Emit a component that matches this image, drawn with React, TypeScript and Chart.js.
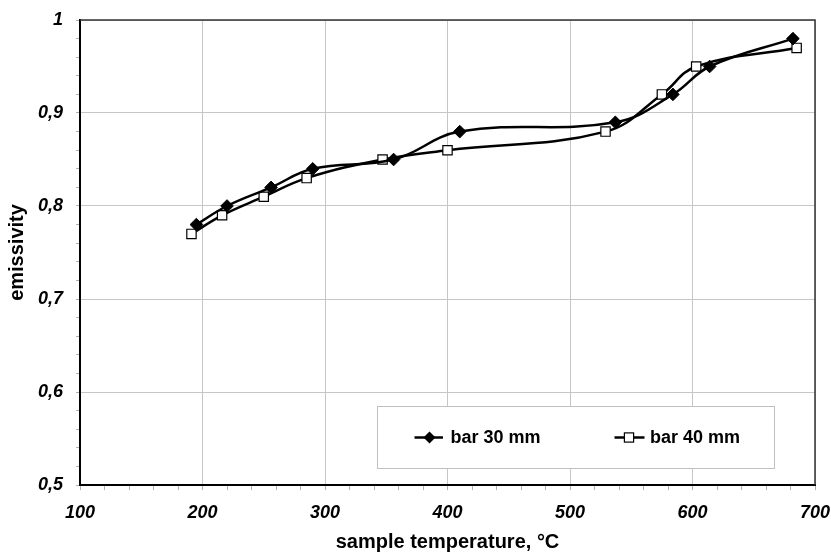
import React, { useEffect, useRef } from 'react';
import { Chart, registerables } from 'chart.js';

Chart.register(...registerables);

// ---- data ----
const temps30 = [195, 220, 256, 290, 356, 410, 537, 584, 614, 682];
const emis30 = [0.78, 0.8, 0.82, 0.84, 0.85, 0.88, 0.89, 0.92, 0.95, 0.98];
const temps40 = [191, 216, 250, 285, 347, 400, 529, 575, 603, 685];
const emis40 = [0.77, 0.79, 0.81, 0.83, 0.85, 0.86, 0.88, 0.92, 0.95, 0.97];
const seriesNames = ['bar 30 mm', 'bar 40 mm'];
const xAxisTitle = 'sample temperature, °C';
const yAxisTitle = 'emissivity';
const xRange = [100, 700];
const yRange = [0.5, 1];

const FONT = '"Liberation Sans", Arial, Helvetica, sans-serif';
const GRID = '#c6c6c6';
const TICKC = '#b0b0b0';

const isMajorY = (v: number) => Math.abs(v * 10 - Math.round(v * 10)) < 1e-6;
const isMajorX = (v: number) => Math.abs(v % 100) < 1e-6;

const framePlugin = {
  id: 'frameAndLegend',
  afterDraw(chart: any) {
    const { ctx, chartArea: a } = chart;
    ctx.save();
    // top and right frame
    ctx.strokeStyle = '#333';
    ctx.lineWidth = 1.5;
    ctx.beginPath();
    ctx.moveTo(a.left, a.top);
    ctx.lineTo(a.right, a.top);
    ctx.lineTo(a.right, a.bottom);
    ctx.stroke();

    // legend box
    const bx = a.left + 297;
    const by = a.top + 386;
    const bw = 397;
    const bh = 62;
    ctx.fillStyle = '#fff';
    ctx.fillRect(bx, by, bw, bh);
    ctx.strokeStyle = '#c0c0c0';
    ctx.lineWidth = 1;
    ctx.strokeRect(bx + 0.5, by + 0.5, bw, bh);

    const cy = by + 31.5;
    const items = [
      { l0: 37.5, l1: 66, m: 52.5, t: 73.5, style: 'diamond' },
      { l0: 237.5, l1: 267.5, m: 252, t: 273, style: 'square' },
    ];
    items.forEach((it, i) => {
      ctx.strokeStyle = '#000';
      ctx.lineWidth = 2.5;
      ctx.beginPath();
      ctx.moveTo(bx + it.l0, cy);
      ctx.lineTo(bx + it.l1, cy);
      ctx.stroke();
      const mx = bx + it.m;
      if (it.style === 'diamond') {
        const r = 6;
        ctx.fillStyle = '#000';
        ctx.beginPath();
        ctx.moveTo(mx, cy - r);
        ctx.lineTo(mx + r, cy);
        ctx.lineTo(mx, cy + r);
        ctx.lineTo(mx - r, cy);
        ctx.closePath();
        ctx.fill();
      } else {
        const s = 4.6;
        ctx.fillStyle = '#fff';
        ctx.fillRect(mx - s, cy - s, 2 * s, 2 * s);
        ctx.lineWidth = 1.2;
        ctx.strokeRect(mx - s, cy - s, 2 * s, 2 * s);
      }
      ctx.fillStyle = '#000';
      ctx.font = `bold 18px ${FONT}`;
      ctx.textBaseline = 'middle';
      ctx.textAlign = 'left';
      ctx.fillText(seriesNames[i], bx + it.t, cy + 1);
    });
    ctx.restore();
  },
};

export default function App() {
  const ref = useRef<HTMLCanvasElement | null>(null);

  useEffect(() => {
    if (!ref.current) return;
    const tickFont = { family: FONT, size: 18, weight: 'bold' as const, style: 'italic' as const };
    const titleFont = { family: FONT, size: 20, weight: 'bold' as const };
    const chart = new Chart(ref.current, {
      type: 'line',
      data: {
        datasets: [
          {
            label: seriesNames[0],
            data: temps30.map((x, i) => ({ x, y: emis30[i] })),
            borderColor: '#000',
            backgroundColor: '#000',
            borderWidth: 2.5,
            tension: 0.4,
            pointStyle: 'rectRot',
            pointRadius: 6.3,
            pointBorderWidth: 1,
            pointBackgroundColor: '#000',
            pointBorderColor: '#000',
          },
          {
            label: seriesNames[1],
            data: temps40.map((x, i) => ({ x, y: emis40[i] })),
            borderColor: '#000',
            backgroundColor: '#fff',
            borderWidth: 2.5,
            tension: 0.4,
            pointStyle: 'rect',
            pointRadius: 6.6,
            pointBorderWidth: 1.2,
            pointBackgroundColor: '#fff',
            pointBorderColor: '#000',
          },
        ],
      },
      options: {
        responsive: false,
        animation: false,
        layout: { padding: { top: 20, right: 16, left: 0, bottom: 0 } },
        plugins: {
          legend: { display: false },
          tooltip: { enabled: false },
        },
        scales: {
          x: {
            type: 'linear',
            min: xRange[0],
            max: xRange[1],
            afterFit: (s: any) => {
              s.height = 70;
              s.paddingLeft = 0;
              s.paddingRight = 0;
            },
            ticks: {
              stepSize: 20,
              autoSkip: false,
              maxRotation: 0,
              padding: 12,
              color: '#000',
              font: tickFont,
              callback: (v: any) => (isMajorX(Number(v)) ? String(v) : ''),
            },
            grid: {
              color: (c: any) => (c.tick && isMajorX(c.tick.value) ? GRID : 'rgba(0,0,0,0)'),
              tickColor: TICKC,
              tickLength: 5,
              lineWidth: 1,
            },
            border: { color: '#000', width: 2 },
            title: {
              display: true,
              text: xAxisTitle,
              color: '#000',
              font: titleFont,
              padding: { top: 0, bottom: 1 },
            },
          },
          y: {
            type: 'linear',
            min: yRange[0],
            max: yRange[1],
            afterFit: (s: any) => {
              s.width = 80;
              s.paddingTop = 0;
              s.paddingBottom = 0;
            },
            ticks: {
              stepSize: 0.02,
              autoSkip: false,
              padding: 13,
              color: '#000',
              font: tickFont,
              callback: (v: any) => {
                const n = Number(v);
                if (!isMajorY(n)) return '';
                const r = Math.round(n * 10) / 10;
                return r === 1 ? '1' : r.toFixed(1).replace('.', ',');
              },
            },
            grid: {
              color: (c: any) => (c.tick && isMajorY(c.tick.value) ? GRID : 'rgba(0,0,0,0)'),
              tickColor: TICKC,
              tickLength: 4,
              lineWidth: 1,
            },
            border: { color: '#000', width: 2 },
            title: {
              display: true,
              text: yAxisTitle,
              color: '#000',
              font: titleFont,
              padding: { top: 5, bottom: 0 },
            },
          },
        },
      },
      plugins: [framePlugin],
    });
    return () => chart.destroy();
  }, []);

  return (
    <div style={{ position: 'absolute', left: 0, top: 0, width: 831, height: 555, background: '#fff' }}>
      <canvas ref={ref} width={831} height={555} style={{ display: 'block' }} />
    </div>
  );
}
